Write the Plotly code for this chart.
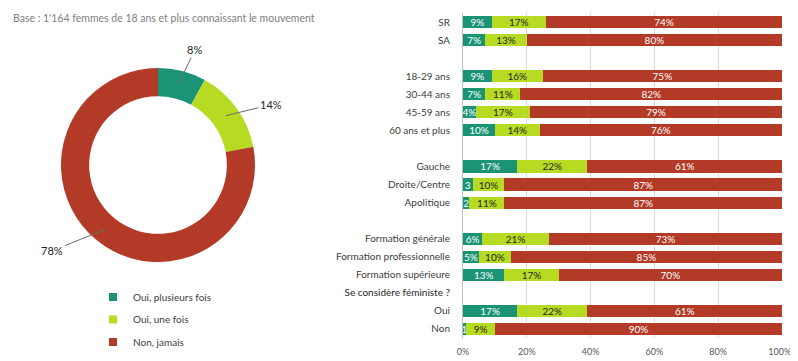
import math
import plotly.graph_objects as go

# ---------------- data ----------------
series_names = ["Oui, plusieurs fois", "Oui, une fois", "Non, jamais"]
series_colors = ["#1B9476", "#B6DB22", "#B23A27"]
text_colors = ["white", "#262626", "white"]

donut_values = [8, 14, 78]

bar_categories = ["SR", "SA", " ",
                  "18-29 ans", "30-44 ans", "45-59 ans", "60 ans et plus", "  ",
                  "Gauche", "Droite/Centre", "Apolitique", "   ",
                  "Formation générale", "Formation professionnelle", "Formation supérieure",
                  "<span style='color:#262626'>Se considère féministe ?</span>",
                  "Oui", "Non"]
plusieurs = [9, 7, None, 9, 7, 4, 10, None, 17, 3, 2, None, 6, 5, 13, None, 17, 1]
une_fois = [17, 13, None, 16, 11, 17, 14, None, 22, 10, 11, None, 21, 10, 17, None, 22, 9]
jamais = [74, 80, None, 75, 82, 79, 76, None, 61, 87, 87, None, 73, 85, 70, None, 61, 90]

x_tickvals = [0, 20, 40, 60, 80, 100]
x_ticktext = ["0%", "20%", "40%", "60%", "80%", "100%\u00a0\u00a0"]

subtitle = "Base : 1'164 femmes de 18 ans et plus connaissant le mouvement"

# ---------------- layout constants ----------------
OFF = 8                      # page body margin
W, H = 798 - OFF, 361 - OFF  # visible figure size
FONT = "Lato"


def px_x(x):
    return (x - OFF) / W


def px_y(y):
    return 1 - (y - OFF) / H


def fmt(v):
    if v is None:
        return ""
    return f"{v}%" if v >= 4 else f"{v}"


fig = go.Figure()

# donut
pie_left, pie_right, pie_top, pie_bottom = 61, 255, 68, 262
fig.add_trace(go.Pie(
    values=donut_values, labels=series_names, hole=0.71, sort=False,
    direction="clockwise", rotation=0,
    marker=dict(colors=series_colors, line=dict(color="white", width=0)),
    textinfo="none", hoverinfo="label+percent", showlegend=False,
    domain=dict(x=[px_x(pie_left), px_x(pie_right)], y=[px_y(pie_bottom), px_y(pie_top)]),
))

# donut labels with leader lines (positions derived from the values)
cx, cy = (pie_left + pie_right) / 2, (pie_top + pie_bottom) / 2
r_out = (pie_right - pie_left) / 2
r_mid = r_out * (1 + 0.71) / 2 + 1
label_offsets = [(16, -34), (45, -11), (-52, 21)]
total = sum(donut_values)
cum = 0
for v, (ox, oy) in zip(donut_values, label_offsets):
    mid = (cum + v / 2) / total * 2 * math.pi
    cum += v
    hx = cx + r_mid * math.sin(mid)
    hy = cy - r_mid * math.cos(mid)
    fig.add_annotation(
        x=px_x(hx), y=px_y(hy), xref="paper", yref="paper",
        ax=ox, ay=oy, axref="pixel", ayref="pixel",
        text=f"{round(v / total * 100)}%", showarrow=True, arrowhead=0,
        arrowwidth=1, arrowcolor="#6b6b6b", standoff=0, startstandoff=0,
        font=dict(family=FONT, size=11, color="#262626"),
    )

# stacked bars
for name, vals, col, tcol in zip(series_names, [plusieurs, une_fois, jamais], series_colors, text_colors):
    fig.add_trace(go.Bar(
        y=bar_categories, x=vals, orientation="h", name=name,
        marker=dict(color=col, line=dict(width=0)),
        text=[fmt(v) for v in vals], textposition="inside", insidetextanchor="middle",
        textangle=0, textfont=dict(family=FONT, size=10, color=tcol),
        cliponaxis=True, showlegend=False, hoverinfo="x+y+name",
        xaxis="x", yaxis="y",
    ))

# legend entries (square markers)
for i, (name, col) in enumerate(zip(series_names, series_colors)):
    fig.add_trace(go.Scatter(
        x=[None], y=[None], mode="markers", name=name,
        marker=dict(symbol="square", size=8, color=col),
        legendgroup=f"g{i}", showlegend=True, xaxis="x", yaxis="y",
    ))

fig.add_annotation(
    x=px_x(11), y=px_y(18), xref="paper", yref="paper", xanchor="left", yanchor="middle",
    text=subtitle, showarrow=False, font=dict(family=FONT, size=10.5, color="#808080"),
)

fig.update_layout(
    width=W, height=H, margin=dict(l=0, r=0, t=0, b=0, pad=0),
    paper_bgcolor="white", plot_bgcolor="white",
    font=dict(family=FONT, size=10, color="#404040"),
    barmode="stack", bargap=0.33,
    uniformtext=dict(minsize=10, mode="show"),
    xaxis=dict(domain=[px_x(463), px_x(782)], range=[0, 100], tickvals=x_tickvals, ticktext=x_ticktext,
               showgrid=True, gridcolor="#D9D9D9", gridwidth=1, zeroline=False, automargin=False,
               showline=False, ticks="", tickfont=dict(family=FONT, size=9, color="#595959"),
               ticklabelstandoff=7, ticklabeloverflow="allow", fixedrange=True),
    yaxis=dict(domain=[px_y(338), px_y(13)], type="category", categoryorder="array",
               categoryarray=bar_categories, autorange="reversed", automargin=False,
               showline=True, linecolor="#BFBFBF", linewidth=1, ticks="", showgrid=False,
               tickfont=dict(family=FONT, size=10, color="#404040"), ticklabelstandoff=10, fixedrange=True),
    legend=dict(x=px_x(93), y=0.013, xanchor="left", yanchor="bottom",
                font=dict(family=FONT, size=10, color="#404040"),
                tracegroupgap=3.5, itemwidth=30, bgcolor="rgba(0,0,0,0)"),
    showlegend=True,
)

fig.write_html("out.html")
